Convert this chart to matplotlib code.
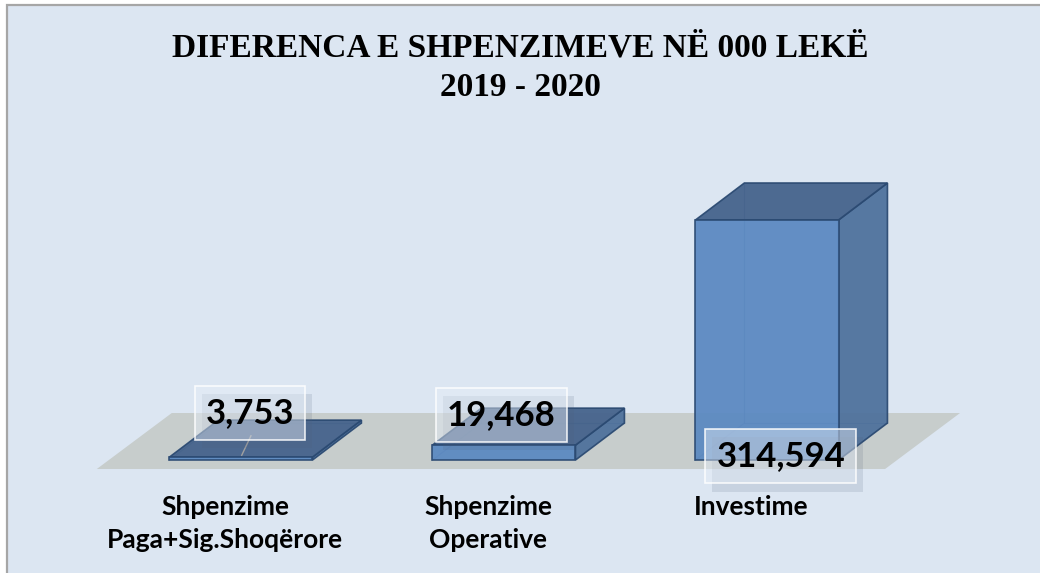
import matplotlib.pyplot as plt
import matplotlib.patches as mpatches
import matplotlib.patheffects as pe

categories = ['Shpenzime\nPaga+Sig.Shoqërore', 'Shpenzime\nOperative', 'Investime']
values = [3753, 19468, 314594]
value_labels = ['3,753', '19,468', '314,594']
title_lines = ['DIFERENCA E SHPENZIMEVE NË 000 LEKË', '2019 - 2020']

# layout: 3d look built in data units
half_w = 0.272          # half width of the bar front
ddx, ddy = 0.186, 48500  # depth offset of the bar back face
floor_front, floor_back = -11800, 61600
floor_x0, floor_x1, floor_dx = -0.548, 2.449, 0.285

front_col = '#5b89c1'
side_col = '#4e719c'
top_col = '#44628b'
edge_col = '#2b4a72'

fig = plt.figure(figsize=(10.4, 5.73), dpi=100)
fig.patch.set_facecolor('white')
fig.patches.append(mpatches.Rectangle((7 / 1040, -0.01), 1.0, 1 - 5 / 573 + 0.01,
                                      transform=fig.transFigure, fc='#dce6f2',
                                      ec='#a6a6a6', lw=1.6, zorder=-5))

ax = fig.add_axes([0, 0, 1, 1])
ax.set_xlim(-0.916, 3.038)
ax.set_ylim(-148100, 603000)
ax.axis('off')
ax.patch.set_alpha(0)

# floor
ax.add_patch(mpatches.Polygon([(floor_x0, floor_front), (floor_x1, floor_front),
                               (floor_x1 + floor_dx, floor_back),
                               (floor_x0 + floor_dx, floor_back)],
                              closed=True, fc='#c7cdcc', ec='none', zorder=1))

for i, v in enumerate(values):
    x0, x1 = i - half_w, i + half_w
    # hidden back edges, visible through the transparent faces
    ax.plot([x0 + ddx, x0 + ddx, x1 + ddx], [v + ddy, ddy, ddy],
            color=edge_col, lw=0.8, alpha=0.5, zorder=2)
    ax.plot([x0, x0 + ddx], [0, ddy], color=edge_col, lw=0.8, alpha=0.5, zorder=2)
    front = [(x0, 0), (x1, 0), (x1, v), (x0, v)]
    side = [(x1, 0), (x1 + ddx, ddy), (x1 + ddx, v + ddy), (x1, v)]
    top = [(x0, v), (x1, v), (x1 + ddx, v + ddy), (x0 + ddx, v + ddy)]
    for pts, c in [(side, side_col), (top, top_col), (front, front_col)]:
        ax.add_patch(mpatches.Polygon(pts, closed=True, fc=c, ec=edge_col,
                                      lw=1.2, alpha=0.94, zorder=3))

# data labels
label_pos = [(0.035, values[0] + 58000), (0.99, values[1] + 40000), (2.053, 5000)]
# thin leader line on the first bar
ax.plot([0.038, 0.003], [values[0] + 28000, values[0] + 2500], color='#a0a0a0', lw=1.0, zorder=4)
for (lx, ly), txt in zip(label_pos, value_labels):
    t = ax.text(lx, ly, txt, ha='center', va='center', fontsize=25, fontweight='bold',
                family='Lato', color='black', zorder=5,
                bbox=dict(boxstyle='square,pad=0.32', fc=(0.9, 0.93, 0.97, 0.45),
                          ec=(1, 1, 1, 0.85), lw=1.2))
    t.get_bbox_patch().set_path_effects([
        pe.SimplePatchShadow(offset=(5, -6), shadow_rgbFace='#50607a', alpha=0.15),
        pe.Normal()])

# category labels
for i, c in enumerate(categories):
    ax.text(i - 0.06, -46000, c, ha='center', va='top', fontsize=19,
            fontweight='bold', family='Lato', linespacing=1.42, zorder=5)

fig.text(0.5, 1 - 48 / 573, title_lines[0], ha='center', va='center', fontsize=24,
         fontweight='bold', family='Liberation Serif')
fig.text(0.5, 1 - 87 / 573, title_lines[1], ha='center', va='center', fontsize=24,
         fontweight='bold', family='Liberation Serif')

fig.savefig('out.png', dpi=100)
